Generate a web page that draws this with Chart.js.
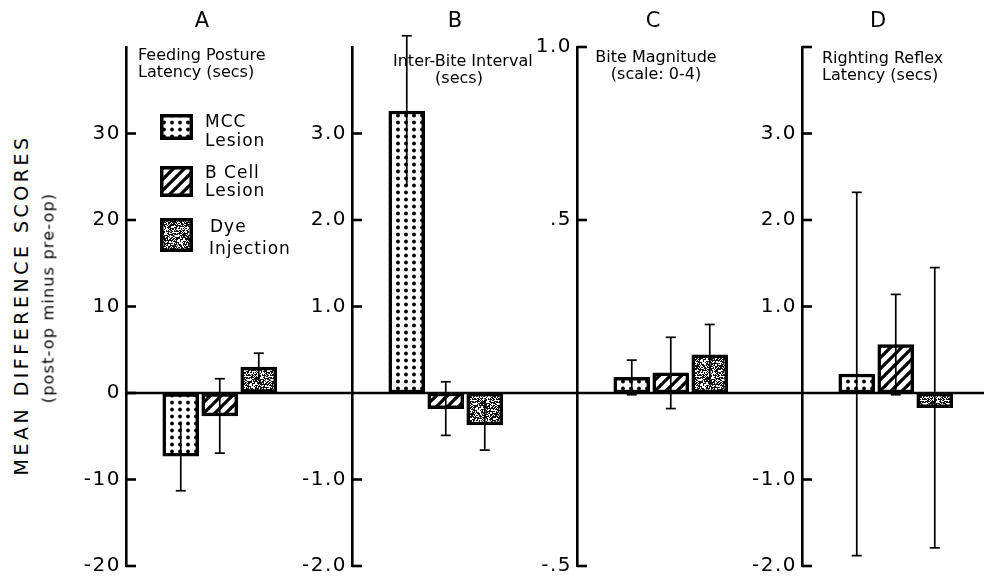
<!DOCTYPE html>
<html><head><meta charset="utf-8">
<script src="https://cdn.jsdelivr.net/npm/chart.js@4.4.1/dist/chart.umd.min.js"></script>
<style>
html,body{margin:0;padding:0;background:#fff;width:984px;height:581px;overflow:hidden;position:relative;font-family:'DejaVu Sans',sans-serif;color:#000}
canvas{position:absolute;top:0}
.t{position:absolute;white-space:nowrap;color:#000}
.pl{font-size:21px;line-height:20px;width:40px;text-align:center;top:10px}
.sub{font-size:16px;line-height:17px}
.rot{transform:translate(-50%,-50%) rotate(-90deg)}
</style></head><body>
<canvas id="cA" width="296" height="581" style="left:56px"></canvas>
<canvas id="cB" width="296" height="581" style="left:282px"></canvas>
<canvas id="cC" width="296" height="581" style="left:507px"></canvas>
<canvas id="cD" width="296" height="581" style="left:732px"></canvas>

<div class="t rot" style="left:21px;top:305px;font-size:19px;letter-spacing:3.5px">MEAN DIFFERENCE SCORES</div>
<div class="t rot" style="left:48px;top:298px;font-size:16px;letter-spacing:1.2px">(post-op minus pre-op)</div>

<div class="t pl" style="left:182px">A</div>
<div class="t pl" style="left:435px">B</div>
<div class="t pl" style="left:633px">C</div>
<div class="t pl" style="left:858px">D</div>

<div class="t sub" style="left:138px;top:46px">Feeding Posture<br>Latency (secs)</div>
<div class="t sub" style="left:393px;top:52px;width:132px;text-align:center">Inter-Bite Interval<br>(secs)</div>
<div class="t sub" style="left:595px;top:48px;width:122px;text-align:center">Bite Magnitude<br>(scale: 0-4)</div>
<div class="t sub" style="left:822px;top:49px">Righting Reflex<br>Latency (secs)</div>

<script>
// ---- data ----
const categories = ['MCC Lesion', 'B Cell Lesion', 'Dye Injection'];
const legendLines = [['MCC', 'Lesion'], ['B Cell', 'Lesion'], ['Dye', 'Injection']];

const meansA = [-7.3, -2.65, 3.0];
const errsA  = [4.0, 4.3, 1.6];
const meansB = [3.26, -0.18, -0.37];
const errsB  = [0.87, 0.31, 0.29];
const meansC = [0.045, 0.058, 0.11];
const errsC  = [0.05, 0.103, 0.088];
const meansD = [0.22, 0.56, -0.17];
const errsD  = [2.1, 0.58, 1.62];

const rangeA = [-20, 40];
const rangeB = [-2, 4];
const rangeC = [-0.5, 1.0];
const rangeD = [-2, 4];

const ticksA = [-20, -10, 0, 10, 20, 30];
const tickLabelsA = ['-20', '-10', '0', '10', '20', '30'];
const ticksB = [-2, -1, 1, 2, 3];
const tickLabelsB = ['-2.0', '-1.0', '1.0', '2.0', '3.0'];
const ticksC = [-0.5, 0.5, 1.0];
const tickLabelsC = ['-.5', '.5', '1.0'];
const ticksD = [-2, -1, 1, 2, 3, 4];
const tickLabelsD = ['-2.0', '-1.0', '1.0', '2.0', '3.0', ''];

// ---- fills ----
function dotPattern(ctx) {
  const c = document.createElement('canvas'); c.width = 8; c.height = 7;
  const g = c.getContext('2d');
  g.fillStyle = '#fff'; g.fillRect(0, 0, 8, 7);
  g.fillStyle = '#000'; g.beginPath(); g.arc(4, 3.5, 1.9, 0, Math.PI * 2); g.fill();
  return ctx.createPattern(c, 'repeat');
}
function hatchPattern(ctx) {
  const c = document.createElement('canvas'); c.width = 11; c.height = 11;
  const g = c.getContext('2d');
  g.fillStyle = '#fff'; g.fillRect(0, 0, 11, 11);
  g.strokeStyle = '#000'; g.lineWidth = 3.2;
  for (const k of [-11, 0, 11]) { g.beginPath(); g.moveTo(k - 1, 12); g.lineTo(k + 12, -1); g.stroke(); }
  return ctx.createPattern(c, 'repeat');
}
function stipplePattern(ctx) {
  const n = 24;
  const c = document.createElement('canvas'); c.width = n; c.height = n;
  const g = c.getContext('2d');
  const img = g.createImageData(n, n);
  for (let j = 0; j < n; j++) for (let i = 0; i < n; i++) {
    let h = (Math.imul(i + 1, 374761393) + Math.imul(j + 7, 668265263)) | 0;
    h = Math.imul(h ^ (h >>> 13), 1274126177); h = h ^ (h >>> 16);
    const v = ((h >>> 0) % 1000) / 1000 < 0.42 ? 255 : 20;
    const o = (j * n + i) * 4;
    img.data[o] = img.data[o + 1] = img.data[o + 2] = v; img.data[o + 3] = 255;
  }
  g.putImageData(img, 0, 0);
  return ctx.createPattern(c, 'repeat');
}

function makePanelPlugin(means, errs, legend) {
  return {
    id: 'panel',
    beforeDraw(chart) { chart.ctx.letterSpacing = '1.5px'; },
    afterDatasetsDraw(chart) {
      const ctx = chart.ctx, y = chart.scales.y, area = chart.chartArea;
      const meta = chart.getDatasetMeta(0);
      ctx.save();
      ctx.letterSpacing = '0px';
      ctx.strokeStyle = '#000';
      const line = (x1, y1, x2, y2) => { ctx.beginPath(); ctx.moveTo(x1, y1); ctx.lineTo(x2, y2); ctx.stroke(); };
      // zero line
      const y0 = y.getPixelForValue(0);
      ctx.lineWidth = 2.6;
      line(area.left, y0, chart.width, y0);
      // error bars
      ctx.lineWidth = 1.7;
      means.forEach((m, i) => {
        const x = meta.data[i].x;
        const hi = m + errs[i], lo = m - errs[i];
        const yh = y.getPixelForValue(hi), yl = y.getPixelForValue(lo);
        line(x, yh, x, yl);
        const inside = v => (m >= 0 ? (v >= 0 && v <= m) : (v <= 0 && v >= m));
        if (!inside(hi)) line(x - 5, yh, x + 5, yh);
        if (!inside(lo)) line(x - 5, yl, x + 5, yl);
      });
      // inward tick marks
      ctx.lineWidth = 2.6;
      y.ticks.forEach(t => { const p = y.getPixelForValue(t.value); line(area.left, p, area.left + 10, p); });
      ctx.restore();
    },
    afterDraw(chart) {
      if (!legend) return;
      const ctx = chart.ctx;
      const fills = chart.data.datasets[0].backgroundColor;
      const ox = 56; // canvas page offset
      const boxes = [[160, 114, 33, 26], [160, 166, 33, 31], [160, 218, 33, 34]];
      const textPos = [[[205, 123], [205, 142]], [[205, 174], [205, 192]], [[210, 228], [209, 250]]];
      ctx.save();
      boxes.forEach((b, i) => {
        ctx.fillStyle = fills[i];
        ctx.fillRect(b[0] - ox, b[1], b[2], b[3]);
        ctx.strokeStyle = '#000'; ctx.lineWidth = 3.5;
        ctx.strokeRect(b[0] - ox + 1.75, b[1] + 1.75, b[2] - 3.5, b[3] - 3.5);
        ctx.fillStyle = '#000';
        ctx.font = '17px "DejaVu Sans"';
        ctx.letterSpacing = '1px';
        ctx.textBaseline = 'middle'; ctx.textAlign = 'left';
        legendLines[i].forEach((s, k) => ctx.fillText(s, textPos[i][k][0] - ox, textPos[i][k][1]));
      });
      ctx.restore();
    }
  };
}

function makeChart(id, means, errs, ticks, tickLabels, range, legend) {
  const canvas = document.getElementById(id);
  const ctx = canvas.getContext('2d');
  const fills = [dotPattern(ctx), hatchPattern(ctx), stipplePattern(ctx)];
  return new Chart(ctx, {
    type: 'bar',
    data: {
      labels: categories,
      datasets: [{
        label: 'Mean difference score',
        data: means.map((m, i) => ({ x: i + 1, y: m })),
        backgroundColor: fills,
        borderColor: '#000',
        borderWidth: 3.5,
        borderSkipped: false,
        barThickness: 36
      }]
    },
    options: {
      responsive: false,
      animation: false,
      devicePixelRatio: 1,
      layout: { padding: { top: 47, bottom: 15, left: 0, right: 0 } },
      plugins: { legend: { display: false }, tooltip: { enabled: false } },
      scales: {
        x: { type: 'linear', display: false, min: 0.32, max: 0.32 + 226 / 52 },
        y: {
          min: range[0], max: range[1],
          afterBuildTicks: s => { s.ticks = ticks.map(v => ({ value: v })); },
          afterFit: s => { s.width = 70; s.paddingTop = 0; s.paddingBottom = 0; },
          grid: { drawOnChartArea: false, drawTicks: false },
          border: { display: true, color: '#000', width: 2.6 },
          ticks: {
            padding: 5, color: '#000',
            font: { family: 'DejaVu Sans', size: 20 },
            callback: (v, i) => tickLabels[i]
          }
        }
      }
    },
    plugins: [makePanelPlugin(means, errs, legend)]
  });
}

makeChart('cA', meansA, errsA, ticksA, tickLabelsA, rangeA, true);
makeChart('cB', meansB, errsB, ticksB, tickLabelsB, rangeB, false);
makeChart('cC', meansC, errsC, ticksC, tickLabelsC, rangeC, false);
makeChart('cD', meansD, errsD, ticksD, tickLabelsD, rangeD, false);
</script>
</body></html>
